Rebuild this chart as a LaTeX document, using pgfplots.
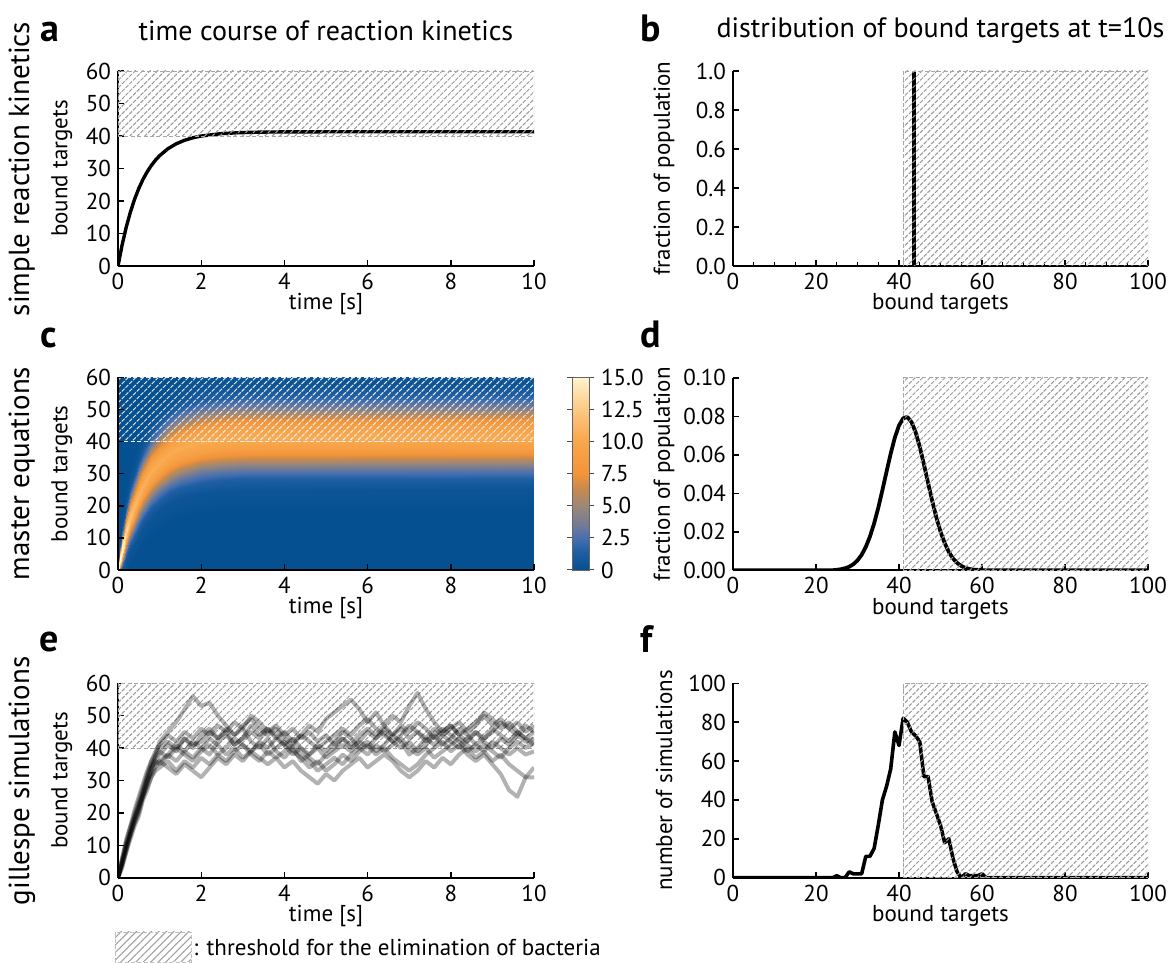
\documentclass[border=0pt]{standalone}
\usepackage{fontspec}
\setmainfont{PT Sans}
\usepackage{pgfplots}
\usepackage{pgfplotstable}
\pgfplotsset{compat=1.18}
\usetikzlibrary{patterns.meta}

\definecolor{hmblue}{RGB}{5,80,145}

\pgfplotstableread{
t a b c d e f g h i
0 0 0 0 0 0 0 0 0 0
0.1 4 5 3 6 4 5 4 5 6
0.2 9 10 8 11 10 9 8 11 12
0.3 13 14 12 15 13 14 14 16 16
0.4 17 19 16 20 18 18 17 19 21
0.5 20 23 19 24 21 22 21 22 25
0.6 25 26 24 28 26 27 25 25 29
0.7 29 31 27 32 30 31 29 28 33
0.8 33 34 31 35 32 36 34 31 36
0.9 38 36 34 37 35 39 36 33 38
1.0 42 38 36 39 36 41 35 34 40
1.2 45 41 38 37 34 44 38 36 42
1.4 48 39 41 40 32 42 36 33 40
1.6 52 43 39 38 35 45 39 36 43
1.8 56 40 42 36 33 43 37 34 41
2.0 53 44 40 39 31 46 40 37 42
2.2 54 46 43 41 34 44 38 35 45
2.4 50 43 41 38 37 47 42 38 43
2.6 47 45 38 40 35 45 44 36 46
2.8 44 41 40 43 38 48 41 39 44
3.0 46 43 37 41 36 46 43 41 47
3.2 42 47 39 39 39 50 45 38 49
3.4 40 44 42 41 37 48 43 36 46
3.6 43 46 40 38 35 45 46 39 44
3.8 39 43 43 40 37 47 44 37 46
4.0 37 45 41 42 34 44 41 39 43
4.2 40 42 38 39 36 46 43 41 41
4.4 36 44 40 37 33 43 40 38 44
4.6 38 47 37 34 31 45 38 36 42
4.8 41 45 35 36 29 42 40 33 40
5.0 39 49 38 33 32 44 37 35 42
5.2 42 51 40 35 30 41 39 37 44
5.4 45 53 43 38 33 43 41 35 46
5.6 43 55 41 36 35 40 39 38 44
5.8 40 52 44 39 37 42 42 40 47
6.0 42 48 46 41 34 45 40 38 49
6.2 39 51 44 38 36 43 43 41 46
6.4 41 47 47 40 38 46 45 39 44
6.6 44 44 50 37 36 44 42 41 42
6.8 42 46 48 35 33 47 40 43 44
7.0 38 43 53 33 31 45 42 40 47
7.2 40 45 57 35 33 48 39 38 45
7.4 43 42 52 38 36 46 41 40 43
7.6 41 44 48 40 34 43 44 37 46
7.8 44 41 45 42 37 45 46 39 44
8.0 42 43 47 39 35 47 44 41 46
8.2 40 46 44 41 38 44 42 43 48
8.4 43 44 42 38 40 46 39 41 45
8.6 45 41 45 36 37 48 41 39 47
8.8 42 43 43 38 39 50 39 41 51
9.0 40 45 46 35 36 47 42 39 49
9.2 43 48 44 32 38 49 40 37 46
9.4 41 46 42 27 35 46 38 40 48
9.6 44 44 45 25 33 48 40 42 45
9.8 42 47 43 31 31 45 38 40 43
10.0 43 45 41 34 31 47 39 42 45
}\gillespie

\pgfplotsset{
  panel/.style={
    scale only axis,
    axis x line=bottom, axis y line=left,
    axis line style={-, line width=1pt, black},
    tick align=inside,
    major tick length=3pt, minor tick length=2pt,
    every tick/.style={black, line width=0.7pt},
    ticklabel style={font=\fontsize{11.5}{13.5}\selectfont},
    xlabel style={font=\fontsize{11.5}{13.5}\selectfont, at={(axis description cs:0.5,0)}, anchor=center, yshift=-19pt},
    ylabel style={font=\fontsize{11.5}{13.5}\selectfont, anchor=center},
    title style={font=\fontsize{14}{16}\selectfont, at={(axis description cs:0.5,1)}, anchor=center, yshift=14pt},
    /pgf/number format/assume math mode=true,
    every axis plot/.append style={mark=none},
  },
  timepanel/.style={panel, width=208pt, xmin=0, xmax=10, ymin=0, ymax=60,
    xtick={0,2,4,6,8,10}, ytick={0,10,20,30,40,50,60},
    xlabel={time [s]}, ylabel={bound targets},
    ylabel style={at={(axis description cs:-0.135,0.5)}}},
  distpanel/.style={panel, width=207.5pt, xmin=0, xmax=100,
    xtick={0,20,40,60,80,100}, xlabel={bound targets},
    ylabel style={at={(axis description cs:-0.166,0.5)}}},
  hatch/.style={draw=gray!70, line width=0.45pt, dash pattern=on 2pt off 1.2pt,
    pattern={Lines[angle=45,distance=2.65pt,line width=0.5pt]}, pattern color=gray!80},
  whitehatch/.style={draw=white!85!gray, line width=0.5pt, dash pattern=on 2pt off 1.2pt,
    pattern={Lines[angle=45,distance=2.65pt,line width=0.5pt]}, pattern color=white!85!gray},
  trace/.style={black, opacity=0.3, line width=2pt, line join=round},
}

\begin{document}
\begin{tikzpicture}
\useasboundingbox (0,0) rectangle (586pt,481.5pt);

% ---------------- a ----------------
\begin{axis}[timepanel, at={(59pt,348.5pt)}, anchor=south west, height=97.5pt,
  title={time course of reaction kinetics}]
\addplot[black, line width=1.7pt] coordinates {
(0,0) (0.1,6.54) (0.2,12.05) (0.3,16.68) (0.4,20.58) (0.5,23.86) (0.6,26.62)
(0.7,28.95) (0.8,30.90) (0.9,32.55) (1.0,33.94) (1.2,36.08) (1.4,37.60)
(1.6,38.68) (1.8,39.45) (2.0,39.99) (2.5,40.75) (3.0,41.06) (3.5,41.20)
(4.0,41.26) (5.0,41.29) (10,41.3)};
\addplot[hatch] coordinates {(0,40) (10,40) (10,60) (0,60) (0,40)};
\end{axis}

% ---------------- b ----------------
\begin{axis}[distpanel, at={(366.5pt,348.5pt)}, anchor=south west, height=97.5pt,
  ymin=0, ymax=1, ytick={0,0.2,0.4,0.6,0.8,1.0},
  yticklabel style={/pgf/number format/.cd, fixed, fixed zerofill, precision=1},
  minor x tick num=3,
  ylabel={fraction of population},
  title={distribution of bound targets at t=10s}]
\addplot[black, line width=1.1pt] coordinates {(0,0) (100,0)};
\addplot[black, line width=2.2pt] coordinates {(43.6,0) (43.6,1)};
\addplot[hatch] coordinates {(41,0) (100,0) (100,1) (41,1) (41,0)};
\end{axis}

% ---------------- c ----------------
\begin{axis}[timepanel, at={(59pt,196.5pt)}, anchor=south west, height=96.25pt,
  axis on top,
  colormap={hm}{rgb255(0cm)=(5,80,145); rgb255(1.5cm)=(33,95,165);
    rgb255(2.5cm)=(70,112,175); rgb255(3.5cm)=(115,122,150);
    rgb255(5cm)=(155,136,120); rgb255(6.3cm)=(200,137,77);
    rgb255(7.5cm)=(242,148,58); rgb255(10cm)=(249,166,74);
    rgb255(12.5cm)=(252,200,131); rgb255(15cm)=(255,244,204)},
  point meta min=0, point meta max=15,
  colorbar,
  colorbar style={scale only axis, at={(parent axis.north east)}, anchor=north west,
    xshift=10.5pt, width=8.5pt,
    ytick={0,2.5,5,7.5,10,12.5,15},
    yticklabels={0,2.5,5.0,7.5,10.0,12.5,15.0},
    yticklabel style={font=\fontsize{11.5}{13.5}\selectfont},
    tick align=outside, major tick length=2.5pt,
    every tick/.style={black!70, line width=0.5pt},
    axis line style={black!60, line width=0.4pt}}]
\addplot[fill=hmblue, draw=none] coordinates {(0,0) (10,0) (10,60) (0,60)} -- cycle;
\addplot[surf, shader=interp, empty line=scanline, point meta=explicit]
 table[x=x, y=y, meta=z] {
x y z
0.02 -2.77 0.05
0.02 -1.59 1.08
0.02 -1.00 3.31
0.02 -0.41 7.96
0.02 0.18 14.86
0.02 0.77 21.62
0.02 1.36 24.5
0.02 1.95 21.62
0.02 2.54 14.86
0.02 3.13 7.96
0.02 3.72 3.31
0.02 4.31 1.08
0.02 5.49 0.05

0.05 -3.12 0.04
0.05 -1.28 0.86
0.05 -0.36 2.67
0.05 0.56 6.40
0.05 1.48 11.95
0.05 2.40 17.39
0.05 3.32 19.7
0.05 4.24 17.39
0.05 5.16 11.95
0.05 6.08 6.40
0.05 7.00 2.67
0.05 7.92 0.86
0.05 9.76 0.04

0.1 -2.56 0.04
0.1 0.00 0.73
0.1 1.27 2.26
0.1 2.55 5.42
0.1 3.82 10.13
0.1 5.10 14.74
0.1 6.37 16.7
0.1 7.65 14.74
0.1 8.92 10.13
0.1 10.20 5.42
0.1 11.47 2.26
0.1 12.75 0.73
0.1 15.30 0.04

0.2 -0.34 0.03
0.2 3.12 0.59
0.2 4.85 1.83
0.2 6.58 4.38
0.2 8.31 8.19
0.2 10.04 11.91
0.2 11.77 13.5
0.2 13.50 11.91
0.2 15.23 8.19
0.2 16.96 4.38
0.2 18.69 1.83
0.2 20.42 0.59
0.2 23.88 0.03

0.3 2.05 0.03
0.3 6.13 0.53
0.3 8.17 1.62
0.3 10.21 3.90
0.3 12.25 7.28
0.3 14.29 10.59
0.3 16.33 12.0
0.3 18.37 10.59
0.3 20.41 7.28
0.3 22.45 3.90
0.3 24.49 1.62
0.3 26.53 0.53
0.3 30.61 0.03

0.4 4.33 0.03
0.4 8.87 0.50
0.4 11.13 1.54
0.4 13.40 3.70
0.4 15.66 6.91
0.4 17.93 10.06
0.4 20.19 11.4
0.4 22.46 10.06
0.4 24.72 6.91
0.4 26.99 3.70
0.4 29.25 1.54
0.4 31.52 0.50
0.4 36.05 0.03

0.5 6.34 0.02
0.5 11.24 0.48
0.5 13.68 1.49
0.5 16.13 3.57
0.5 18.57 6.67
0.5 21.02 9.71
0.5 23.46 11.0
0.5 25.91 9.71
0.5 28.35 6.67
0.5 30.80 3.57
0.5 33.24 1.49
0.5 35.69 0.48
0.5 40.58 0.02

0.6 8.13 0.02
0.6 13.31 0.47
0.6 15.89 1.46
0.6 18.48 3.51
0.6 21.06 6.55
0.6 23.65 9.53
0.6 26.23 10.8
0.6 28.82 9.53
0.6 31.40 6.55
0.6 33.99 3.51
0.6 36.57 1.46
0.6 39.16 0.47
0.6 44.33 0.02

0.8 11.03 0.02
0.8 16.61 0.47
0.8 19.40 1.43
0.8 22.19 3.44
0.8 24.98 6.43
0.8 27.77 9.35
0.8 30.56 10.6
0.8 33.35 9.35
0.8 36.14 6.43
0.8 38.93 3.44
0.8 41.72 1.43
0.8 44.51 0.47
0.8 50.09 0.02

1.0 13.18 0.02
1.0 19.04 0.46
1.0 21.96 1.42
1.0 24.89 3.41
1.0 27.81 6.37
1.0 30.74 9.27
1.0 33.66 10.5
1.0 36.59 9.27
1.0 39.51 6.37
1.0 42.44 3.41
1.0 45.36 1.42
1.0 48.29 0.46
1.0 54.14 0.02

1.25 15.05 0.02
1.25 21.13 0.46
1.25 24.17 1.42
1.25 27.21 3.39
1.25 30.25 6.34
1.25 33.29 9.22
1.25 36.33 10.45
1.25 39.37 9.22
1.25 42.41 6.34
1.25 45.45 3.39
1.25 48.49 1.42
1.25 51.53 0.46
1.25 57.61 0.02

1.5 16.28 0.02
1.5 22.52 0.46
1.5 25.63 1.42
1.5 28.75 3.39
1.5 31.86 6.34
1.5 34.98 9.22
1.5 38.09 10.45
1.5 41.21 9.22
1.5 44.32 6.34
1.5 47.44 3.39
1.5 50.55 1.42
1.5 53.67 0.46
1.5 59.90 0.02

2.0 17.69 0.02
2.0 24.07 0.46
2.0 27.26 1.42
2.0 30.45 3.39
2.0 33.64 6.34
2.0 36.83 9.22
2.0 40.02 10.45
2.0 43.21 9.22
2.0 46.40 6.34
2.0 49.59 3.39
2.0 52.78 1.42
2.0 55.97 0.46
2.0 62.35 0.02

2.5 18.28 0.02
2.5 24.74 0.46
2.5 27.96 1.42
2.5 31.19 3.39
2.5 34.41 6.34
2.5 37.64 9.22
2.5 40.86 10.45
2.5 44.09 9.22
2.5 47.31 6.34
2.5 50.54 3.39
2.5 53.76 1.42
2.5 56.99 0.46
2.5 63.44 0.02

3.0 18.54 0.02
3.0 25.02 0.46
3.0 28.26 1.42
3.0 31.50 3.39
3.0 34.74 6.34
3.0 37.98 9.22
3.0 41.22 10.45
3.0 44.46 9.22
3.0 47.70 6.34
3.0 50.94 3.39
3.0 54.18 1.42
3.0 57.42 0.46
3.0 63.90 0.02

10 18.75 0.02
10 25.25 0.46
10 28.50 1.42
10 31.75 3.39
10 35.00 6.34
10 38.25 9.22
10 41.50 10.45
10 44.75 9.22
10 48.00 6.34
10 51.25 3.39
10 54.50 1.42
10 57.75 0.46
10 64.25 0.02
};
\addplot[whitehatch] coordinates {(0,40) (10,40) (10,60) (0,60) (0,40)};
\end{axis}

% ---------------- d ----------------
\begin{axis}[distpanel, at={(366.5pt,196.3pt)}, anchor=south west, height=96.25pt,
  ymin=0, ymax=0.1, ytick={0,0.02,0.04,0.06,0.08,0.1},
  yticklabel style={/pgf/number format/.cd, fixed, fixed zerofill, precision=2},
  scaled y ticks=false,
  ylabel={fraction of population}]
\addplot[black, line width=1.9pt, line join=round] coordinates {
(0,0) (20,0) (24,0.0001) (25,0.0003) (26,0.0006) (27,0.0011) (28,0.0019)
(29,0.0032) (30,0.0052) (31,0.0081) (32,0.0122) (33,0.0176) (34,0.0244)
(35,0.0325) (36,0.0417) (37,0.0513) (38,0.0607) (39,0.0690) (40,0.0753)
(41,0.0790) (42,0.0797) (43,0.0771) (44,0.0718) (45,0.0642) (46,0.0551)
(47,0.0455) (48,0.0361) (49,0.0275) (50,0.0201) (51,0.0142) (52,0.0096)
(53,0.0062) (54,0.0039) (55,0.0023) (56,0.0013) (57,0.0007) (58,0.0004)
(60,0.0001) (62,0) (100,0)};
\addplot[hatch] coordinates {(41,0) (100,0) (100,0.1) (41,0.1) (41,0)};
\end{axis}

% ---------------- e ----------------
\begin{axis}[timepanel, at={(59pt,42.65pt)}, anchor=south west, height=97.2pt]
\addplot[hatch] coordinates {(0,40) (10,40) (10,60) (0,60) (0,40)};
\addplot[trace] table[x=t, y=a] {\gillespie};
\addplot[trace] table[x=t, y=b] {\gillespie};
\addplot[trace] table[x=t, y=c] {\gillespie};
\addplot[trace] table[x=t, y=d] {\gillespie};
\addplot[trace] table[x=t, y=e] {\gillespie};
\addplot[trace] table[x=t, y=f] {\gillespie};
\addplot[trace] table[x=t, y=g] {\gillespie};
\addplot[trace] table[x=t, y=h] {\gillespie};
\addplot[trace] table[x=t, y=i] {\gillespie};
\end{axis}

% ---------------- f ----------------
\begin{axis}[distpanel, at={(366.5pt,42.65pt)}, anchor=south west, height=97.2pt,
  ymin=0, ymax=100, ytick={0,20,40,60,80,100},
  ylabel={number of simulations}]
\addplot[black, line width=1.8pt, line join=round] coordinates {
(0,0) (24,0) (25,1) (26,0) (27,0) (28,3) (29,2) (30,2) (31,2) (32,11) (33,11)
(34,15) (35,27) (36,40) (37,47) (38,56) (39,75) (40,68) (41,82) (42,80) (43,75)
(44,73) (45,70) (46,52) (47,52) (48,39) (49,33) (50,27) (51,18) (52,20) (53,10)
(54,3) (55,0) (56,2) (57,1) (58,1) (59,1) (60,2) (61,0) (100,0)};
\addplot[hatch] coordinates {(41,0) (100,0) (100,100) (41,100) (41,0)};
\end{axis}

% ---------------- panel letters ----------------
\begin{scope}[every node/.style={font=\fontsize{19}{21}\selectfont\bfseries, anchor=base west, inner sep=0pt}]
\node at (20pt,460.5pt) {a};
\node at (320pt,460.5pt) {b};
\node at (20pt,307.5pt) {c};
\node at (320pt,307.5pt) {d};
\node at (19.5pt,155.5pt) {e};
\node at (320pt,155pt) {f};
\end{scope}

% ---------------- row labels ----------------
\begin{scope}[every node/.style={font=\fontsize{14.5}{16}\selectfont, rotate=90, anchor=base, inner sep=0pt}]
\node at (14.5pt,397pt) {simple reaction kinetics};
\node at (14.5pt,244.75pt) {master equations};
\node at (14.5pt,91pt) {gillespe simulations};
\end{scope}

% ---------------- legend ----------------
\fill[pattern={Lines[angle=45,distance=2.65pt,line width=0.5pt]}, pattern color=gray!75]
  (57.5pt,0.5pt) rectangle (95.5pt,15.5pt);
\draw[gray!50, line width=0.4pt, dash pattern=on 2pt off 1.2pt] (57.5pt,0.5pt) rectangle (95.5pt,15.5pt);
\node[anchor=west, inner sep=0pt, font=\fontsize{11.5}{13.5}\selectfont] at (96.5pt,8pt) {: threshold for the elimination of bacteria};
\end{tikzpicture}
\end{document}
